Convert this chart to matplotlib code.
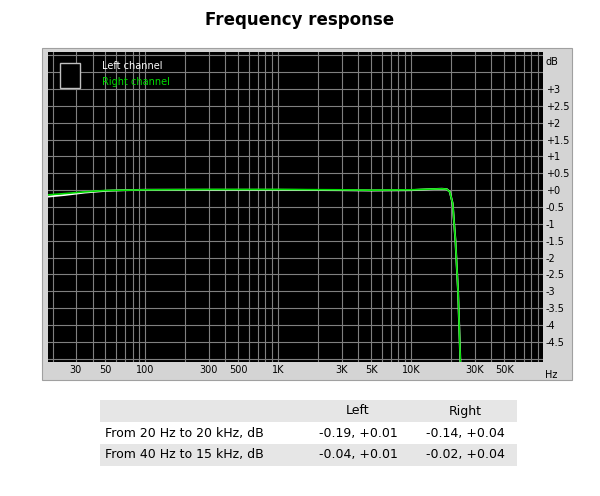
import numpy as np
import matplotlib.pyplot as plt
from matplotlib.patches import Rectangle

# frequency response data
freq_hz = [18.5, 25, 35, 50, 70, 100, 300, 1000, 3000, 5000, 10000, 14000, 17000, 18500, 19500, 20500, 21500, 22500, 23200, 24000]
left_db = [-0.19, -0.14, -0.07, -0.02, 0.0, 0.01, 0.01, 0.01, 0.0, -0.01, 0.0, 0.03, 0.04, 0.03, -0.05, -0.4, -1.5, -3.0, -4.6, -6.5]
right_db = [-0.14, -0.10, -0.05, -0.01, 0.0, 0.01, 0.02, 0.02, 0.01, 0.0, 0.01, 0.03, 0.04, 0.03, -0.05, -0.4, -1.5, -3.0, -4.6, -6.5]

x_ticks = [30, 50, 100, 300, 500, 1000, 3000, 5000, 10000, 30000, 50000]
x_labels = ["30", "50", "100", "300", "500", "1K", "3K", "5K", "10K", "30K", "50K"]
y_ticks = np.arange(-4.5, 3.01, 0.5)

table_cols = ["", "Left", "Right"]
table_rows = [
    ["From 20 Hz to 20 kHz, dB", "-0.19, +0.01", "-0.14, +0.04"],
    ["From 40 Hz to 15 kHz, dB", "-0.04, +0.01", "-0.02, +0.04"],
]

fig = plt.figure(figsize=(6, 4.96), dpi=100)
fig.text(0.5, 0.96, "Frequency response", ha="center", va="center",
         fontsize=12, fontweight="bold")

# grey frame behind the plot
frame = Rectangle((42 / 600, 1 - 380 / 496), 530 / 600, 332 / 496,
                  transform=fig.transFigure, facecolor="#d4d4d4",
                  edgecolor="#a0a0a0", lw=0.8)
frame.set_zorder(-5)
fig.add_artist(frame)

ax = fig.add_axes([48 / 600, 1 - 362 / 496, 495 / 600, 310 / 496])
ax.set_zorder(2)
ax.set_facecolor("black")
ax.set_xscale("log")
ax.set_xlim(18.5, 98000)
ax.set_ylim(-5.1, 4.1)

# grid
for d in [10, 100, 1000, 10000]:
    for m in range(1, 10):
        f = d * m
        if 18.5 < f < 98000:
            ax.axvline(f, color="#808080", lw=0.8, zorder=1)
for y in np.arange(-5.0, 4.01, 0.5):
    ax.axhline(y, color="#808080", lw=0.8, zorder=1)

ax.plot(freq_hz, left_db, color="white", lw=1.4, zorder=3)
ax.plot(freq_hz, right_db, color="#00dd00", lw=1.2, zorder=4)

ax.set_xticks(x_ticks)
ax.set_xticklabels(x_labels, fontsize=7)
ax.xaxis.set_minor_locator(plt.NullLocator())
ax.yaxis.tick_right()
ax.set_yticks(y_ticks)
ax.set_yticklabels([("+%g" % v if v >= 0 else "%g" % v) for v in y_ticks], fontsize=7)
ax.tick_params(length=0, pad=2)
for s in ax.spines.values():
    s.set_visible(False)
ax.text(1.005, 0.985, "dB", transform=ax.transAxes, fontsize=7, va="top")
ax.text(1.005, -0.025, "Hz", transform=ax.transAxes, fontsize=7, va="top")

ax.text(0.11, 0.97, "Left channel", transform=ax.transAxes, color="white", fontsize=7, va="top")
ax.text(0.11, 0.92, "Right channel", transform=ax.transAxes, color="#00dd00", fontsize=7, va="top")
# small icon box
ax.add_patch(Rectangle((0.025, 0.885), 0.04, 0.08, transform=ax.transAxes,
                       facecolor="black", edgecolor="#c0c0c0", lw=1, zorder=5))

# summary table
tx0, tx1 = 100 / 600, 517 / 600
row_h = 22 / 496
top = 1 - 400 / 496
col_x = [105 / 600, 358 / 600, 465 / 600]
for i, row in enumerate([table_cols] + table_rows):
    y0 = top - (i + 1) * row_h
    color = "#e6e6e6" if i % 2 == 0 else "white"
    cell_bg = Rectangle((tx0, y0), tx1 - tx0, row_h, transform=fig.transFigure,
                        facecolor=color, edgecolor="none")
    cell_bg.set_zorder(-5)
    fig.add_artist(cell_bg)
    for j, cell in enumerate(row):
        fig.text(col_x[j], y0 + row_h / 2, cell, ha="left" if j == 0 else "center",
                 va="center", fontsize=9)

fig.savefig("out.png", dpi=100)
